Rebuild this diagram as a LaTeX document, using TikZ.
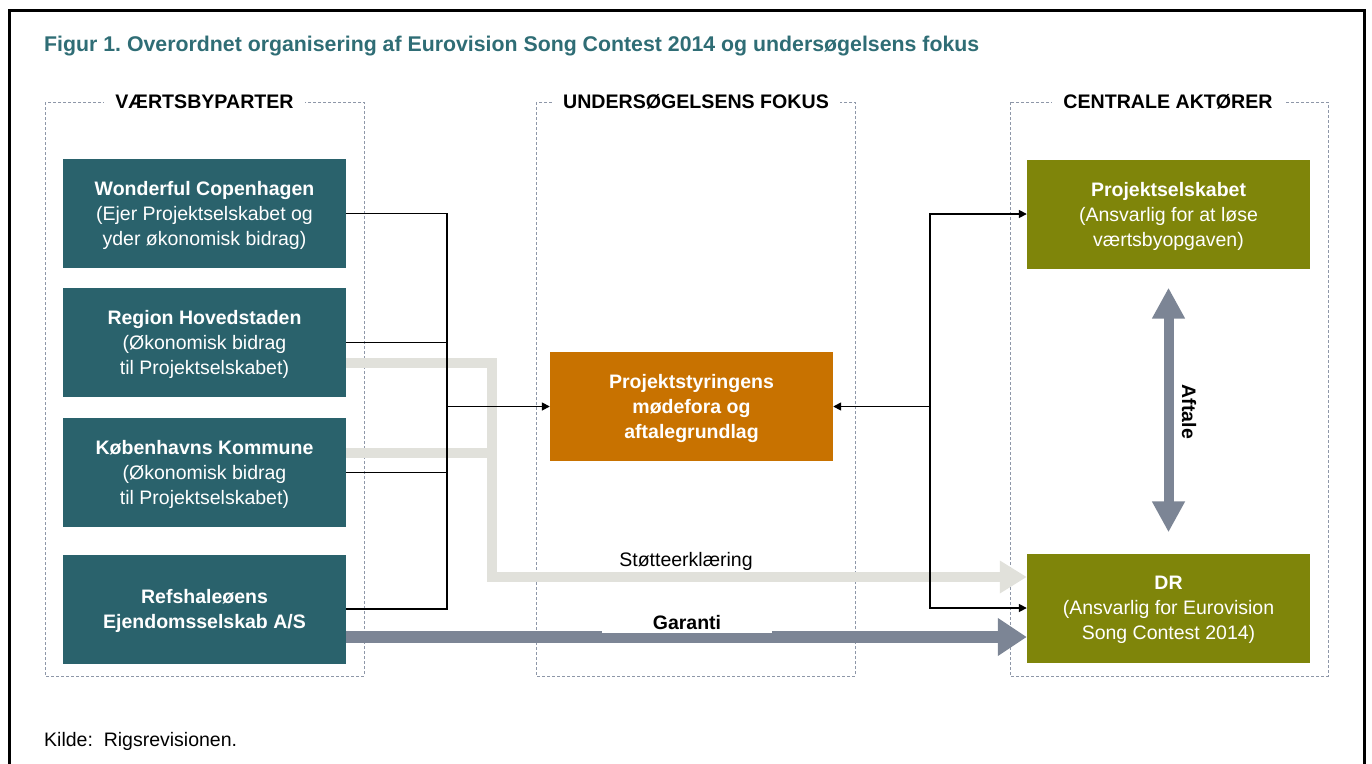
\documentclass[tikz,border=0pt]{standalone}
\usepackage{fontspec}
\setmainfont{Liberation Sans}
\usetikzlibrary{arrows.meta,calc}
\frenchspacing
\definecolor{teal}{HTML}{2A626C}
\definecolor{titlecol}{HTML}{2F6D75}
\definecolor{orangebox}{HTML}{C87200}
\definecolor{olive}{HTML}{7F850A}
\definecolor{dashgray}{HTML}{8E97A8}
\definecolor{lightarrow}{HTML}{E1E1DB}
\definecolor{darkarrow}{HTML}{7C8595}
\tikzset{
  box/.style={rectangle, minimum width=283pt, minimum height=109pt, inner sep=0pt,
    text=white, align=center, text depth=-8pt, font=\fontsize{19.5}{25}\selectfont},
  tealbox/.style={box, fill=teal},
  orangestyle/.style={box, fill=orangebox},
  olivebox/.style={box, fill=olive},
  group/.style={draw=dashgray, line width=0.9pt, dash pattern=on 3pt off 2pt},
  grouplabel/.style={fill=white, inner xsep=11pt, inner ysep=2pt, font=\fontsize{19.6}{23}\selectfont\bfseries},
  conn/.style={draw=black, line width=1.6pt},
  connarrow/.style={conn, -{Triangle[length=8pt,width=8pt]}},
  lightstyle/.style={draw=lightarrow, line width=10pt},
  lightarrowstyle/.style={lightstyle, -{Triangle[length=27pt,width=31pt]}},
  darkstyle/.style={draw=darkarrow, line width=12pt},
  lbl/.style={font=\fontsize{19.5}{23}\selectfont},
}
\begin{document}
\begin{tikzpicture}[x=1pt,y=-1pt]
\useasboundingbox (0,0) rectangle (1372,763);
% outer frame
\draw[line width=3pt] (9,800) -- (9,10) -- (1364,10) -- (1364,800);
% title
\node[anchor=base west, inner sep=0pt, text=titlecol, font=\fontsize{21.3}{25}\selectfont\bfseries] (title) at (44,51) {Figur 1. Overordnet organisering af Eurovision Song Contest 2014 og undersøgelsens fokus};
% group frames
\draw[group] (45,102) rectangle (364,676);
\draw[group] (536,102) rectangle (855,676);
\draw[group] (1010,102) rectangle (1328,676);
\node[grouplabel] (g1) at (204.5,102) {VÆRTSBYPARTER};
\node[grouplabel] (g2) at (696,102) {UNDERSØGELSENS FOKUS};
\node[grouplabel] (g3) at (1168,102) {CENTRALE AKTØRER};
% left boxes
\node[tealbox] (wc) at (204.5,213.5) {\textbf{Wonderful Copenhagen}\\(Ejer Projektselskabet og\\yder økonomisk bidrag)};
\node[tealbox] (rh) at (204.5,342.5) {\textbf{Region Hovedstaden}\\(Økonomisk bidrag\\til Projektselskabet)};
\node[tealbox] (kk) at (204.5,472.5) {\textbf{Københavns Kommune}\\(Økonomisk bidrag\\til Projektselskabet)};
\node[tealbox] (re) at (204.5,609) {\textbf{Refshaleøens}\\\textbf{Ejendomsselskab A/S}};
% middle box
\node[orangestyle] (fokus) at (691.5,406.5) {\textbf{Projektstyringens}\\\textbf{mødefora og}\\\textbf{aftalegrundlag}};
% right boxes
\node[olivebox] (ps) at (1168.5,214) {\textbf{Projektselskabet}\\(Ansvarlig for at løse\\værtsbyopgaven)};
\node[olivebox] (dr) at (1168.5,608) {\textbf{DR}\\(Ansvarlig for Eurovision\\Song Contest 2014)};
% light support arrow
\coordinate (sb) at (492,577);
\coordinate (rhs) at ($(rh.east)+(0,20)$);
\coordinate (kks) at ($(kk.east)+(0,-20)$);
\draw[lightstyle] (kks) -- (kks -| sb);
\draw[lightarrowstyle] (rhs) -| (sb) -- (sb -| dr.west);
\node[lbl, fill=white, inner sep=2pt] (stot) at (686,561) {Støtteerklæring};
% garanti arrow
\coordinate (gs) at ($(re.east)+(0,28)$);
\draw[darkstyle, -{Triangle[length=29pt,width=36pt]}] (gs) -- (gs -| dr.west);
\node[lbl, font=\fontsize{19.5}{23}\selectfont\bfseries, fill=white, inner ysep=3pt, inner xsep=51pt, anchor=south] (gar) at (687,633) {Garanti};
% left connectors
\coordinate (jl) at (447,406.5);
\draw[conn] (wc.east) -| (jl);
\draw[conn] (rh.east) -| (jl);
\draw[conn] (kk.east) -| (jl);
\draw[conn] (re.east) -| (jl);
\draw[connarrow] (jl) -- (fokus.west);
% right connectors
\coordinate (jr) at (930,406.5);
\draw[connarrow] (jr) |- (ps.west);
\draw[connarrow] (jr) |- (dr.west);
\draw[connarrow] (jr) -- (fokus.east);
% aftale arrow
\draw[draw=darkarrow, line width=10pt, {Triangle[length=31pt,width=31pt]}-{Triangle[length=31pt,width=31pt]}, shorten <=19pt, shorten >=21pt] (ps.south) -- (dr.north);
\node[rotate=-90, font=\fontsize{19.5}{23}\selectfont\bfseries, inner sep=0pt] (aftale) at (1189,412) {Aftale};
% source
\node[anchor=base west, inner sep=0pt, lbl] (kilde) at (44,746) {Kilde:\ \ Rigsrevisionen.};
\end{tikzpicture}
\end{document}
